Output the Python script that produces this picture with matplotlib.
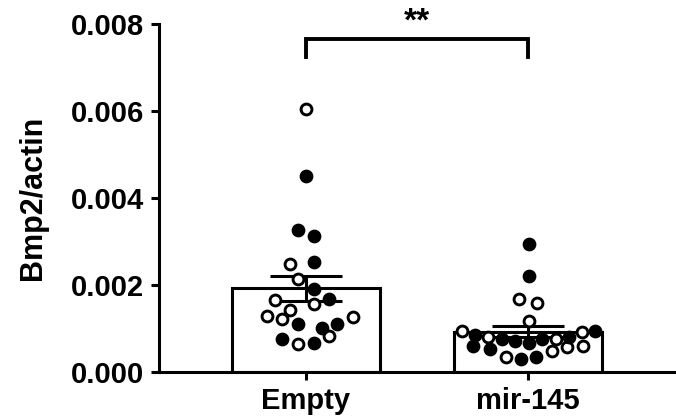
import numpy as np
import matplotlib.pyplot as plt

plt.rcParams['font.family'] = ['Liberation Sans', 'DejaVu Sans']
plt.rcParams['font.weight'] = 'bold'

groups = ['Empty', 'mir-145']

# values (x 1e-3), open and filled circles
empty_open = [6.05, 2.48, 2.13, 1.66, 1.56, 1.43, 1.29, 1.23, 1.27, 0.83, 0.64]
empty_filled = [4.51, 3.26, 3.13, 2.52, 1.92, 1.69, 1.10, 1.10, 1.02, 0.77, 0.66]
mir_open = [1.68, 1.59, 1.18, 0.94, 0.92, 0.81, 0.77, 0.57, 0.60, 0.48, 0.35]
mir_filled = [2.94, 2.21, 0.94, 0.85, 0.75, 0.72, 0.67, 0.76, 0.81, 0.60, 0.52, 0.29, 0.35]

# horizontal scatter of the dots (beeswarm layout)
empty_open_dx = [0, -0.072, -0.035, -0.140, 0.037, -0.072, -0.174, -0.107, 0.210, 0.105, -0.035]
empty_filled_dx = [0, -0.037, 0.037, 0.037, 0.037, 0.105, -0.035, 0.138, 0.071, -0.107, 0.037]
mir_open_dx = [-0.039, 0.039, 0.005, -0.299, 0.245, -0.179, 0.125, 0.177, 0.246, 0.109, -0.099]
mir_filled_dx = [0.005, 0.005, 0.302, -0.239, -0.118, -0.059, 0.005, 0.064, 0.185, -0.246, -0.171, -0.033, 0.036]

sets = [(empty_open, empty_open_dx, empty_filled, empty_filled_dx),
        (mir_open, mir_open_dx, mir_filled, mir_filled_dx)]

fig = plt.figure(figsize=(6.76, 4.18), dpi=100)
ax = fig.add_axes([0.2352, 0.110, 0.7648, 0.8325])

lw = 2.2
for i, (op, opdx, fi, fidx) in enumerate(sets):
    vals = np.array(op + fi) * 1e-3
    m = vals.mean()
    sem = vals.std(ddof=1) / np.sqrt(len(vals))
    ax.bar(i, m, width=0.667, color='white', edgecolor='black', linewidth=lw, zorder=1)
    ax.vlines(i, m - sem, m + sem, color='black', linewidth=lw, zorder=2)
    ax.hlines([m - sem, m + sem], i - 0.162, i + 0.162, color='black', linewidth=lw, zorder=2)
    ax.plot(i + np.array(opdx), np.array(op) * 1e-3, 'o', ms=7.8, mfc='white', mec='black',
            mew=2.1, linestyle='none', zorder=3, clip_on=False)
    ax.plot(i + np.array(fidx), np.array(fi) * 1e-3, 'o', ms=7.8, mfc='black', mec='black',
            mew=2.1, linestyle='none', zorder=3, clip_on=False)

# significance bracket
ax.plot([0, 0, 1, 1], [0.00724, 0.00766, 0.00766, 0.00724], color='black', linewidth=2.8,
        clip_on=False, solid_joinstyle='miter')
ax.text(0.5, 0.00770, '**', ha='center', va='bottom', fontsize=24, fontweight='bold')

ax.set_xlim(-0.662, 1.667)
ax.set_ylim(0, 0.008)
ax.set_yticks([0, 0.002, 0.004, 0.006, 0.008])
ax.set_yticklabels(['0.000', '0.002', '0.004', '0.006', '0.008'])
ax.set_xticks([0, 1])
ax.set_xticklabels(groups)
ax.set_ylabel('Bmp2/actin', fontsize=22, fontweight='bold', labelpad=16)

for s in ['top', 'right']:
    ax.spines[s].set_visible(False)
for s in ['left', 'bottom']:
    ax.spines[s].set_linewidth(lw)
ax.tick_params(axis='both', width=lw, length=6, labelsize=21, pad=5)

fig.savefig('out.png', dpi=100)
